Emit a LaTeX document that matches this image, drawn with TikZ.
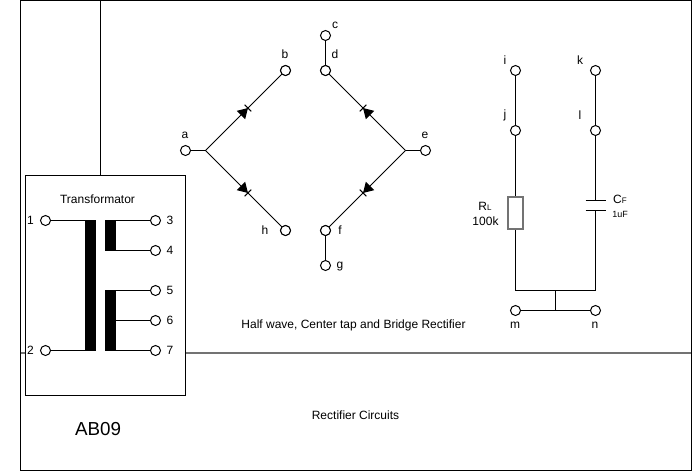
\documentclass[tikz,border=0pt]{standalone}
\usepackage{fontspec}
\setmainfont{Liberation Sans}
\usetikzlibrary{decorations.markings}
\tikzset{
  x=1pt,y=-1pt,
  wire/.style={line width=1pt,black},
  soft wire/.style={line width=1.6pt,black!55},
  term/.style={circle,draw=black,line width=1pt,fill=white,minimum size=10pt,inner sep=0pt},
  lbl/.style={inner sep=0pt,font=\fontsize{12}{14}\selectfont,text=black},
  coil/.style={fill=black,draw=none},
  diode/.style={postaction={decorate,decoration={markings,mark=at position #1 with {
     \fill[black] (3.5,0) -- (-6.5,-6) -- (-6.5,6) -- cycle;
     \draw[line width=1pt] (3.5,-4.7) -- (3.5,4.7);}}}},
}
\begin{document}
\begin{tikzpicture}
\useasboundingbox (0,0) rectangle (692,471);
\fill[white] (0,0) rectangle (692,471);
% frame
\coordinate (tl) at (20.5,0.5);
\coordinate (br) at (691.5,470.5);
\draw[wire] (tl) rectangle (br);
\coordinate (vt) at (100.5,0.5);
\coordinate (vb) at (100.5,175.5);
\draw[wire] (vt) -- (vb);
\coordinate (hl) at (20.5,353);
\coordinate (hr) at (691,353);
\draw[soft wire] (hl) -- (hr);
% transformer box
\node[draw=black,line width=1pt,fill=white,minimum width=160pt,minimum height=220pt,inner sep=0pt] (box) at (105.5,285.5) {};
\node[lbl] (ttl) at (97.5,199.5) {Transformator};
\node[coil,minimum width=11pt,minimum height=130.5pt,inner sep=0pt] (pri) at (90.5,285.25) {};
\node[coil,minimum width=11pt,minimum height=30.5pt,inner sep=0pt] (sa) at (110.5,235.25) {};
\node[coil,minimum width=11pt,minimum height=60.5pt,inner sep=0pt] (sb) at (110.5,320.25) {};
\node[term] (t1) at (45.5,220.5) {};
\node[term] (t2) at (45.5,350.5) {};
\node[term] (t3) at (155.5,220.5) {};
\node[term] (t4) at (155.5,250.5) {};
\node[term] (t5) at (155.5,290.5) {};
\node[term] (t6) at (155.5,320.5) {};
\node[term] (t7) at (155.5,350.5) {};
\draw[wire] (t1.east) -- (t1.east -| pri.west);
\draw[wire] (t2.east) -- (t2.east -| pri.west);
\draw[wire] (t3.west) -- (t3.west -| sa.east);
\draw[wire] (t4.west) -- (t4.west -| sa.east);
\draw[wire] (t5.west) -- (t5.west -| sb.east);
\draw[wire] (t6.west) -- (t6.west -| sb.east);
\draw[wire] (t7.west) -- (t7.west -| sb.east);
\node[lbl] (n1) at (30.5,220) {1};
\node[lbl] (n2) at (30.5,350) {2};
\node[lbl] (n3) at (170,220) {3};
\node[lbl] (n4) at (170,250) {4};
\node[lbl] (n5) at (170,290) {5};
\node[lbl] (n6) at (170,320) {6};
\node[lbl] (n7) at (170,350) {7};
\node[lbl,font=\fontsize{18.8}{20}\selectfont] (ab) at (98,429) {AB09};
% bridge
\node[term] (a) at (185.5,150.5) {};
\node[term] (b) at (285.5,70.5) {};
\node[term] (c) at (325.5,35.5) {};
\node[term] (d) at (325.5,70.5) {};
\node[term] (e) at (425.5,150.5) {};
\node[term] (f) at (325.5,230.5) {};
\node[term] (g) at (325.5,265.5) {};
\node[term] (h) at (285.5,230.5) {};
\coordinate (ja) at (205.5,150.5);
\coordinate (je) at (405.5,150.5);
\draw[wire] (a) -- (ja);
\draw[wire] (e) -- (je);
\draw[wire] (c) -- (d);
\draw[wire] (f) -- (g);
\draw[wire,diode=.5] (ja) -- (b.center);
\draw[wire,diode=.5] (ja) -- (h.center);
\draw[wire,diode=.5] (je) -- (d.center);
\draw[wire,diode=.5] (je) -- (f.center);
\node[term] at (b) {};
\node[term] at (h) {};
\node[term] at (d) {};
\node[term] at (f) {};
\node[lbl] (la) at (185,135) {a};
\node[lbl] (lb) at (285,54) {b};
\node[lbl] (lc) at (335,25) {c};
\node[lbl] (ld) at (335,54) {d};
\node[lbl] (le) at (425,135) {e};
\node[lbl] (lf) at (340,230) {f};
\node[lbl] (lg) at (340,266.5) {g};
\node[lbl] (lh) at (265,230) {h};
% load
\node[term] (i) at (515.5,70.5) {};
\node[term] (j) at (515.5,130.5) {};
\node[term] (k) at (595.5,70.5) {};
\node[term] (l) at (595.5,130.5) {};
\node[term] (m) at (515.5,310.5) {};
\node[term] (n) at (595.5,310.5) {};
\node[draw=black!55,line width=1.6pt,fill=white,minimum width=15pt,minimum height=32pt,inner sep=0pt] (rl) at (515.5,213) {};
\coordinate (cu) at (595.5,200.5);
\coordinate (cd) at (595.5,210.5);
\coordinate (bl) at (515.5,290.5);
\coordinate (br2) at (595.5,290.5);
\coordinate (st) at (555.5,290.5);
\coordinate (sb2) at (555.5,310.5);
\draw[wire] (i) -- (j);
\draw[wire] (k) -- (l);
\draw[wire] (j) -- (rl);
\draw[wire] (rl) -- (bl) -- (br2) -- (cd);
\draw[wire] (l) -- (cu);
\draw[wire] ([xshift=-10pt]cu) -- ([xshift=10pt]cu);
\draw[wire] ([xshift=-10pt]cd) -- ([xshift=10pt]cd);
\draw[wire] (st) -- (sb2);
\draw[wire] (m) -- (n);
\node[lbl] (li) at (505,60) {i};
\node[lbl] (lj) at (505,115) {j};
\node[lbl] (lk) at (580,60) {k};
\node[lbl] (ll) at (580,115) {l};
\node[lbl] (lm) at (515,325) {m};
\node[lbl] (ln) at (595,325) {n};
\node[lbl] (rn) at (485,206) {R{\fontsize{8}{8}\selectfont L}};
\node[lbl] (rv) at (485.5,221) {100k};
\node[lbl] (cn) at (620,199) {C{\fontsize{8}{8}\selectfont F}};
\node[lbl,font=\fontsize{9}{10}\selectfont] (cv) at (620,214) {1uF};
% captions
\node[lbl] (cap1) at (353.5,325) {Half wave, Center tap and Bridge Rectifier};
\node[lbl] (cap2) at (355.5,415) {Rectifier Circuits};
\end{tikzpicture}
\end{document}
